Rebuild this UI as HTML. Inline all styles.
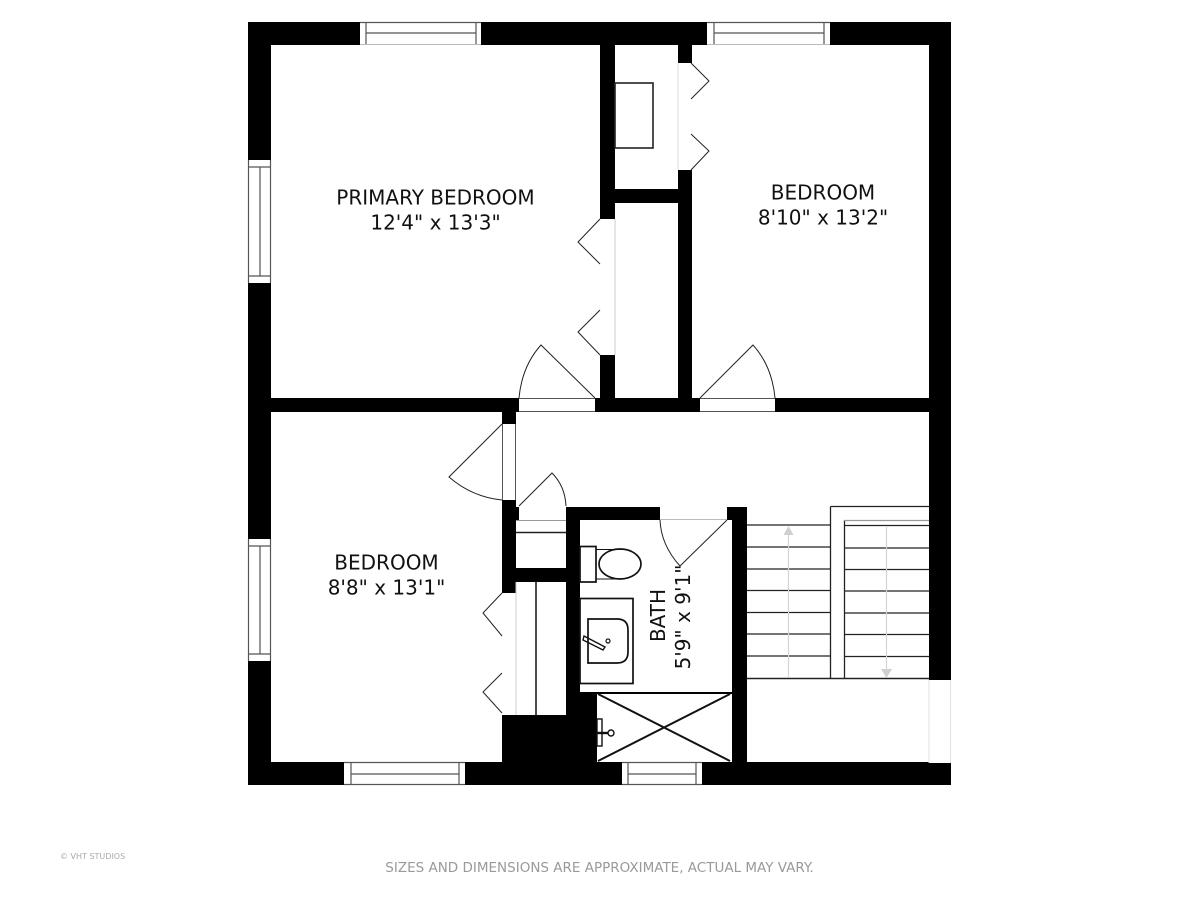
<!DOCTYPE html>
<html><head><meta charset="utf-8"><style>
html,body{margin:0;padding:0;background:#fff}
svg{display:block}
text{font-family:"DejaVu Sans",sans-serif;fill:#111}
</style></head><body>
<svg width="1200" height="900" viewBox="0 0 1200 900" xmlns="http://www.w3.org/2000/svg">
<rect width="1200" height="900" fill="#fff"/>
<g fill="#000">
<rect x="248" y="22" width="703" height="23"/>
<rect x="248" y="22" width="23" height="763"/>
<rect x="929" y="22" width="22" height="658"/>
<rect x="248" y="762" width="703" height="23"/>
<rect x="271" y="398" width="658" height="14"/>
<rect x="600" y="45" width="15" height="174"/>
<rect x="600" y="355" width="15" height="43"/>
<rect x="678" y="45" width="14" height="18"/>
<rect x="678" y="170" width="14" height="228"/>
<rect x="615" y="189" width="63" height="14"/>
<rect x="502" y="412" width="14" height="12"/>
<rect x="502" y="500" width="14" height="93"/>
<rect x="516" y="568" width="50" height="14"/>
<rect x="566" y="507" width="181" height="13"/>
<rect x="566" y="507" width="14" height="210"/>
<rect x="732" y="507" width="15" height="278"/>
<rect x="502" y="715" width="95" height="70"/>
<rect x="580" y="692" width="17" height="93"/>
<rect x="580" y="692" width="152" height="2"/>
</g>
<g fill="#fff" stroke="#333" stroke-width="1">
<!-- windows -->
<rect x="360" y="22" width="121" height="23" stroke="none"/>
<path d="M360 22.5H481M366 22V45M476 22V45M366 33H476" fill="none" stroke="#555" stroke-width="1.2"/>
<path d="M360 44.5H481" stroke="#bbb" fill="none"/>
<rect x="707" y="22" width="123" height="23" stroke="none"/>
<path d="M707 22.5H830M714 22V45M824 22V45M714 33H824" fill="none" stroke="#555" stroke-width="1.2"/>
<path d="M707 44.5H830" stroke="#bbb" fill="none"/>
<rect x="248" y="160" width="23" height="123" stroke="none"/>
<path d="M248.5 160V283M270.5 160V283M248 167H271M248 276H271M260 167V276" fill="none" stroke="#555" stroke-width="1.2"/>
<rect x="248" y="539" width="23" height="122" stroke="none"/>
<path d="M248.5 539V661M270.5 539V661M248 546H271M248 654H271M260 546V654" fill="none" stroke="#555" stroke-width="1.2"/>
<rect x="344" y="762" width="121" height="23" stroke="none"/>
<path d="M344 784.5H465M351 762V785M459 762V785M351 774H459M344 762.5H465" fill="none" stroke="#555" stroke-width="1.2"/>
<rect x="622" y="762" width="80" height="23" stroke="none"/>
<path d="M622 784.5H702M628 762V785M696 762V785M628 774H696M622 762.5H702" fill="none" stroke="#555" stroke-width="1.2"/>
<!-- door openings -->
<rect x="519" y="398" width="76" height="14" stroke="none"/>
<path d="M519 398.5H595M519 411.5H595" fill="none" stroke="#555"/>
<rect x="700" y="398" width="75" height="14" stroke="none"/>
<path d="M700 398.5H775M700 411.5H775" fill="none" stroke="#555"/>
<rect x="502" y="424" width="14" height="76" stroke="none"/>
<path d="M502.5 424V500M515.5 424V500" fill="none" stroke="#555"/>
<rect x="660" y="507" width="67" height="13" stroke="none"/>
<path d="M660 519.5H727" fill="none" stroke="#bbb"/>
<rect x="600" y="219" width="15" height="136" stroke="none"/>
<path d="M615 219V355" fill="none" stroke="#ccc"/>
<rect x="678" y="63" width="14" height="107" stroke="none"/>
<path d="M678 63V170" fill="none" stroke="#ddd"/>
<rect x="502" y="593" width="14" height="120" stroke="none"/>
<path d="M516 582V715" fill="none" stroke="#ccc"/>
<rect x="929" y="680" width="22" height="83" stroke="none"/>
<path d="M929 680V763M950.5 680V763" fill="none" stroke="#e2e2e2"/>
</g>
<!-- closet near bath door: white and shelf -->
<rect x="516" y="507" width="50" height="61" fill="#fff"/>
<rect x="516" y="507" width="3" height="13" fill="#000"/>
<path d="M516 520.5H566" stroke="#999" fill="none"/>
<path d="M516 532.5H566" stroke="#222" stroke-width="1.4" fill="none"/>
<!-- door swings -->
<g fill="none" stroke="#222" stroke-width="1">
<path d="M595 398L541 345Q522 366 519 398"/>
<path d="M700 398L753 345Q772 366 775 398"/>
<path d="M502 424L449 477Q472 497 502 500"/>
<path d="M519 506L552 473Q565 486 566 506"/>
<path d="M727 520L680 566Q661 545 660 520"/>
<path d="M600 219L578 242L600 264M600 310L578 332L600 355"/>
<path d="M691 63L709 81L691 99M691 134L709 151L691 170"/>
<path d="M502 593L483 613L502 636M502 673L483 692L502 713"/>
</g>
<!-- shelves -->
<rect x="615" y="83" width="38" height="65" fill="none" stroke="#222" stroke-width="1.6"/>
<path d="M536 582V716" stroke="#111" stroke-width="1.5"/>
<!-- toilet -->
<g fill="none" stroke="#111" stroke-width="1.7">
<rect x="580" y="546.5" width="16" height="35.5"/>
<ellipse cx="620" cy="564" rx="21" ry="15"/>
<path d="M596 549.5H620M596 579H620" stroke-width="1"/>
<!-- sink -->
<rect x="580" y="598.5" width="53" height="85"/>
<path d="M588 619H617Q628 619 628 630V652Q628 663 617 663H588Z"/>
<path d="M584 636L605 647L603 650L583 640Z" stroke-width="1.4"/>
<circle cx="608" cy="641" r="2" stroke-width="1.2"/>
</g>
<!-- shower -->
<g stroke="#111" fill="none">
<path d="M598 694L730 761M598 761L730 694" stroke-width="2"/>
<rect x="597" y="719" width="5" height="27" fill="#fff" stroke-width="1.4"/>
<path d="M597 733H610" stroke-width="2.4"/>
</g>
<circle cx="611" cy="733" r="3" fill="#fff" stroke="#111" stroke-width="1.4"/>
<!-- stairs -->
<g fill="none" stroke="#222" stroke-width="1.2">
<path d="M747 525H830M747 547H830M747 569H830M747 590.5H830M747 612.5H830M747 634H830M747 656H830"/>
<path d="M844 525.5H929M844 548H929M844 569.5H929M844 591H929M844 613H929M844 634.5H929M844 656.5H929"/>
<path d="M747 678.5H929" stroke-width="1.4"/>
<path d="M830.5 506.5H929M830.5 506.5V678M844.5 520V678" stroke-width="1.3"/>
<path d="M844 520.5H929" stroke="#999"/>
</g>
<path d="M788.5 530V677M886.5 527V672" stroke="#d4d4d4" stroke-width="1.2" fill="none"/>
<path d="M788.5 526L783.5 535H793.5Z" fill="#d0d0d0"/>
<path d="M886.5 678L881 669H892Z" fill="#d0d0d0"/>
<!-- labels -->
<g font-size="20" text-anchor="middle">
<text x="435.5" y="204.5">PRIMARY BEDROOM</text>
<text x="435.5" y="229.5">12'4" x 13'3"</text>
<text x="823" y="199.5">BEDROOM</text>
<text x="823" y="224.5">8'10" x 13'2"</text>
<text x="386.5" y="569.5">BEDROOM</text>
<text x="386.5" y="594.5">8'8" x 13'1"</text>
<text transform="translate(665 615.5) rotate(-90)">BATH</text>
<text transform="translate(690 617) rotate(-90)">5'9" x 9'1"</text>
</g>
<text x="599.5" y="872" font-size="13.5" text-anchor="middle" style="fill:#9a9a9a">SIZES AND DIMENSIONS ARE APPROXIMATE, ACTUAL MAY VARY.</text>
<text x="60" y="859" font-size="8" style="fill:#aaa">© VHT STUDIOS</text>
</svg>
</body></html>
